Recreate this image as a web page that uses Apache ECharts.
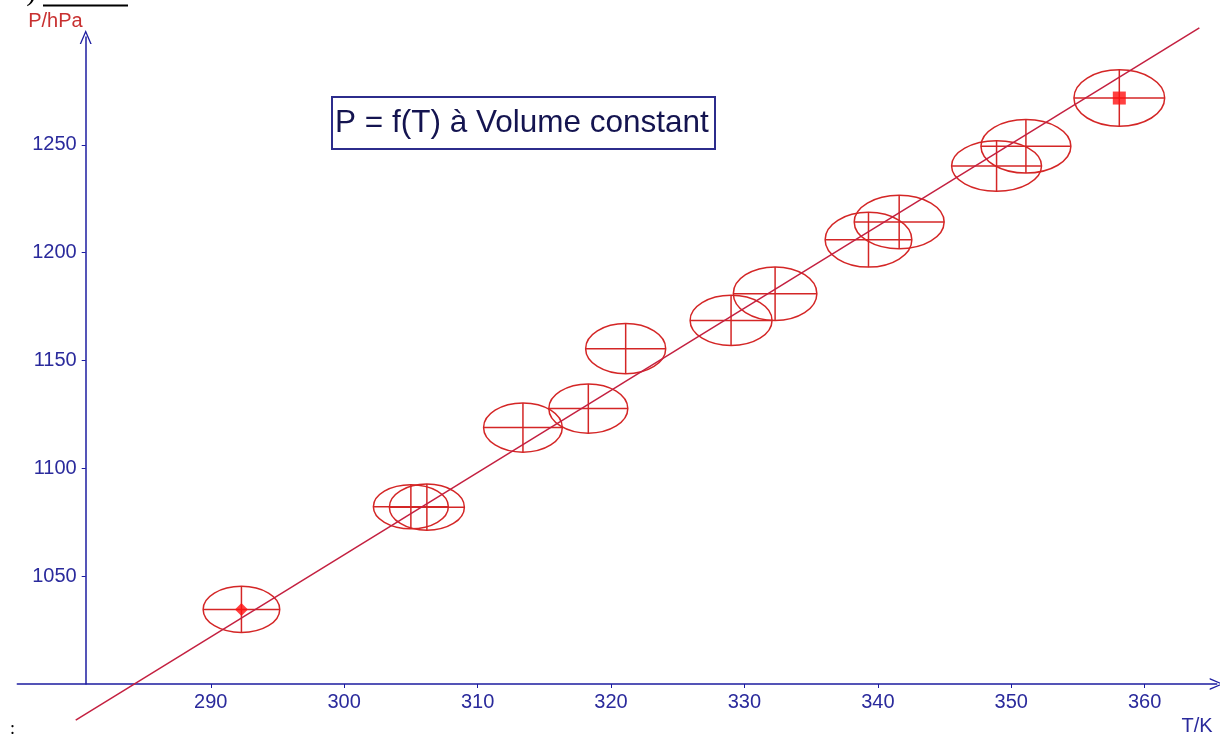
<!DOCTYPE html>
<html>
<head>
<meta charset="utf-8">
<script src="https://cdn.jsdelivr.net/npm/echarts@6/dist/echarts.min.js"></script>
<style>html,body{margin:0;padding:0;background:#fff;}#c{width:1220px;height:738px;}</style>
</head>
<body>
<div id="c"></div>
<script>
// Temperatures (K) of measured points
const temps = [292.3, 305.0, 306.2, 313.4, 318.3, 321.1, 329.0, 332.3, 339.3, 341.6, 348.9, 351.1, 358.1];
// Pressures (hPa)
const pressures = [1034.6, 1082.2, 1082.0, 1118.9, 1127.7, 1155.5, 1168.6, 1181.0, 1206.0, 1214.2, 1240.2, 1249.3, 1271.7];
// Uncertainty on T (K) and P (hPa) — ellipse semi-axes
const errT = [2.87, 2.81, 2.81, 2.95, 2.96, 3.0, 3.07, 3.13, 3.25, 3.37, 3.37, 3.37, 3.4];
const errP = [10.7, 10.2, 10.7, 11.4, 11.4, 11.6, 11.6, 12.4, 12.7, 12.4, 11.7, 12.4, 13.1];
// Fitted straight line end points
const fitT = [279.88, 364.1];
const fitP = [983.3, 1304.2];
// Tick labels
const xTicks = [290, 300, 310, 320, 330, 340, 350, 360];
const yTicks = [1050, 1100, 1150, 1200, 1250];

const axisBlue = '#1c1ca0';
const labelBlue = '#2a2a9c';
const red = '#d42626';

const chart = echarts.init(document.getElementById('c'));

const ellData = temps.map((t, i) => [t, pressures[i], errT[i], errP[i]]);
const firstPt = [[temps[0], pressures[0]]];
const lastPt = [[temps[temps.length - 1], pressures[pressures.length - 1]]];

const arrowPath = 'path://M0,14 L6,0 L12,14 L10.6,14 L6,3.2 L1.4,14 Z';

chart.setOption({
  animation: false,
  backgroundColor: '#ffffff',
  title: {
    text: 'P = f(T) à Volume constant',
    left: 332, top: 97,
    padding: [10, 6, 10, 3],
    borderColor: '#2c2c8c', borderWidth: 2,
    textStyle: { fontSize: 31.5, fontWeight: 'normal', color: '#141450', fontFamily: 'Liberation Sans', lineHeight: 32 }
  },
  grid: { left: 17.3, right: 3.3, top: 37, bottom: 54 },
  xAxis: {
    type: 'value', min: 275.5, max: 365.4,
    splitLine: { show: false },
    axisLine: { onZero: false, lineStyle: { color: axisBlue, width: 1.5 }, symbol: ['none', arrowPath], symbolSize: [12, 14], symbolOffset: [0, 0] },
    axisTick: { length: 4, lineStyle: { color: axisBlue }, customValues: xTicks },
    axisLabel: { customValues: xTicks, color: labelBlue, fontSize: 20, fontFamily: 'Liberation Sans', margin: 8, formatter: v => String(v) },
    name: 'T/K', nameLocation: 'end', nameGap: -4,
    nameTextStyle: { color: labelBlue, fontSize: 20, fontFamily: 'Liberation Sans', align: 'right', verticalAlign: 'top', padding: [32, 0, 0, 0] }
  },
  yAxis: {
    type: 'value', min: 1000, max: 1300, offset: -68.4,
    splitLine: { show: false },
    axisLine: { onZero: false, lineStyle: { color: axisBlue, width: 1.5 }, symbol: ['none', arrowPath], symbolSize: [12, 14] },
    axisTick: { length: 4, lineStyle: { color: axisBlue }, customValues: yTicks },
    axisLabel: { customValues: yTicks, color: labelBlue, fontSize: 20, fontFamily: 'Liberation Sans', margin: 9, formatter: v => String(v) },
    name: 'P/hPa', nameLocation: 'end', nameGap: 6,
    nameTextStyle: { color: '#c83030', fontSize: 20, fontFamily: 'Liberation Sans', align: 'right', padding: [0, 3, 0, 0] }
  },
  series: [
    {
      type: 'line', data: fitT.map((t, i) => [t, fitP[i]]),
      showSymbol: false, clip: false, silent: true,
      lineStyle: { color: '#c42040', width: 1.5 }
    },
    {
      type: 'custom', data: ellData, clip: false,
      renderItem: function (params, api) {
        const c = api.coord([api.value(0), api.value(1)]);
        const s = api.size([api.value(2), api.value(3)]);
        const rx = s[0], ry = s[1];
        const st = { stroke: red, lineWidth: 1.5, fill: 'none' };
        return {
          type: 'group',
          children: [
            { type: 'ellipse', shape: { cx: c[0], cy: c[1], rx: rx, ry: ry }, style: st },
            { type: 'line', shape: { x1: c[0] - rx, y1: c[1], x2: c[0] + rx, y2: c[1] }, style: { stroke: red, lineWidth: 1.5 } },
            { type: 'line', shape: { x1: c[0], y1: c[1] - ry, x2: c[0], y2: c[1] + ry }, style: { stroke: red, lineWidth: 1.5 } }
          ]
        };
      }
    },
    {
      type: 'scatter', data: firstPt, symbol: 'diamond', symbolSize: 13,
      itemStyle: { color: '#ff1010' }
    },
    {
      type: 'scatter', data: lastPt, symbol: 'rect', symbolSize: 13,
      itemStyle: { color: '#ff1010' }
    }
  ],
  graphic: [
    { type: 'text', left: 13, top: -22.5, style: { text: 'c) courbe', fontSize: 30, fontFamily: 'Liberation Serif', fill: '#000', lineHeight: 30 } },
    { type: 'rect', shape: { x: 43, y: 4.5, width: 85, height: 2 }, style: { fill: '#000' } },
    { type: 'text', left: 10, top: 720, style: { text: ':', fontSize: 18, fontFamily: 'Liberation Serif', fill: '#000' } }
  ]
});
</script>
</body>
</html>
